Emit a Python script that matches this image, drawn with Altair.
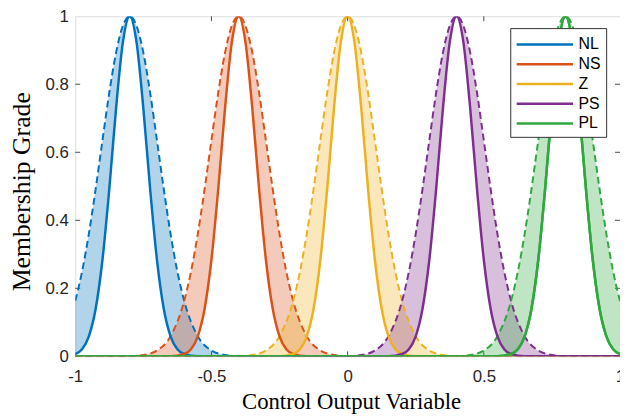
import altair as alt
import pandas as pd

# fuzzy sets
names = ["NL", "NS", "Z", "PS", "PL"]
centers = [-0.8, -0.4, 0.0, 0.4, 0.8]
colors = ["#0072BD", "#D95319", "#EDB120", "#7E2F8E", "#30A83F"]

# membership profile, as distance from each set's centre
offsets = [0.0, 0.025, 0.05, 0.075, 0.1, 0.125, 0.15, 0.175, 0.2, 0.25, 0.3, 0.35, 0.4, 2.0]
lower_grade = [1.0, 0.924, 0.730, 0.492, 0.284, 0.140, 0.059, 0.021, 0.007, 0.0, 0.0, 0.0, 0.0, 0.0]
upper_grade = [1.0, 0.972, 0.893, 0.775, 0.635, 0.492, 0.360, 0.249, 0.163, 0.059, 0.017, 0.004, 0.0, 0.0]

x_ticks = [-1, -0.5, 0, 0.5, 1]
y_ticks = [0, 0.2, 0.4, 0.6, 0.8, 1]
x_inner_ticks = [-0.5, 0, 0.5]
y_inner_ticks = [0.2, 0.4, 0.6, 0.8]

rows = []
for name, c in zip(names, centers):
    n = len(offsets)
    idx = list(range(n - 1, 0, -1)) + list(range(n))
    for k, j in enumerate(idx):
        sign = -1 if k < n - 1 else 1
        rows.append({"set": name, "x": c + sign * offsets[j],
                     "lower": lower_grade[j], "upper": upper_grade[j]})
df = pd.DataFrame(rows)

W, H = 551, 344
xs = alt.Scale(domain=[-1, 1], nice=False, zero=False)
ys = alt.Scale(domain=[0, 1], nice=False, zero=False)
cs = alt.Scale(domain=names, range=colors)

x_axis = alt.Axis(values=x_ticks, labelExpr="datum.value + ''", ticks=False, tickSize=0,
                  domain=False, grid=False, labelFont="Liberation Sans", labelFontSize=17,
                  labelColor="#262626", labelPadding=25, labelBaseline="alphabetic",
                  labelFlush=False, labelOverlap=False,
                  title="Control Output Variable", titleFont="Liberation Serif",
                  titleFontSize=23, titleFontWeight="normal", titleColor="#000000",
                  titleX=279, titleY=53, titleBaseline="alphabetic", titleAlign="center")
y_axis = alt.Axis(values=y_ticks, labelExpr="datum.value + ''", ticks=False, tickSize=0,
                  domain=False, grid=False, labelFont="Liberation Sans", labelFontSize=17,
                  labelColor="#262626", labelPadding=7, labelFlush=False, labelOverlap=False,
                  title="Membership Grade", titleFont="Liberation Serif",
                  titleFontSize=26, titleFontWeight="normal", titleColor="#000000",
                  titleX=-54, titleY=H / 2 + 5, titleAngle=270, titleAlign="center",
                  titleBaseline="middle")

base = alt.Chart(df)

areas = base.mark_area(interpolate="monotone", clip=True, opacity=0.3).encode(
    x=alt.X("x:Q", scale=xs, axis=x_axis),
    y=alt.Y("upper:Q", scale=ys, axis=y_axis),
    y2="lower:Q",
    color=alt.Color("set:N", scale=cs, legend=None),
)

dashed = base.mark_line(interpolate="monotone", clip=True, strokeWidth=2,
                        strokeDash=[7, 4]).encode(
    x=alt.X("x:Q", scale=xs),
    y=alt.Y("upper:Q", scale=ys),
    color=alt.Color("set:N", scale=cs, legend=None),
)

solid = base.mark_line(interpolate="monotone", clip=True, strokeWidth=2.5).encode(
    x=alt.X("x:Q", scale=xs),
    y=alt.Y("lower:Q", scale=ys),
    color=alt.Color("set:N", scale=cs, sort=names, legend=alt.Legend(
        title=None, orient="none", legendX=440, legendY=12,
        symbolType="M-1,0H4.7", symbolSize=400, symbolStrokeWidth=2.5,
        labelFont="Liberation Sans", labelFontSize=16, labelColor="#000000",
        labelOffset=41, rowPadding=0, padding=5, strokeColor="#333333",
        fillColor="#ffffff", cornerRadius=0)),
)

# last set drawn on top, as in the reference (its baseline covers the others)
solid_top = base.mark_line(interpolate="monotone", clip=True, strokeWidth=2.5).encode(
    x=alt.X("x:Q", scale=xs),
    y=alt.Y("lower:Q", scale=ys),
    color=alt.Color("set:N", scale=cs, legend=None),
).transform_filter(alt.datum.set == names[-1])

tx = pd.DataFrame({"t": x_inner_ticks})
ty = pd.DataFrame({"t": y_inner_ticks})
tick_col = "#4d4d4d"
bt = alt.Chart(tx).mark_rule(color=tick_col, strokeWidth=1).encode(
    x=alt.X("t:Q", scale=xs), y=alt.value(H), y2=alt.value(H - 5))
tt = alt.Chart(tx).mark_rule(color=tick_col, strokeWidth=1).encode(
    x=alt.X("t:Q", scale=xs), y=alt.value(0), y2=alt.value(5))
lt = alt.Chart(ty).mark_rule(color=tick_col, strokeWidth=1).encode(
    y=alt.Y("t:Q", scale=ys), x=alt.value(0), x2=alt.value(5))
rt = alt.Chart(ty).mark_rule(color=tick_col, strokeWidth=1).encode(
    y=alt.Y("t:Q", scale=ys), x=alt.value(W), x2=alt.value(W - 5))

chart = alt.layer(bt, tt, lt, rt, areas, dashed, solid, solid_top).resolve_legend(
    color="independent"
).properties(
    width=W, height=H,
    padding={"left": 68, "top": 6, "right": 0, "bottom": 58},
    autosize=alt.AutoSizeParams(type="none"),
).configure_view(stroke="#4d4d4d", strokeWidth=1).configure(background="white")

chart.save("out.html", embed_options={"renderer": "svg", "actions": False})
